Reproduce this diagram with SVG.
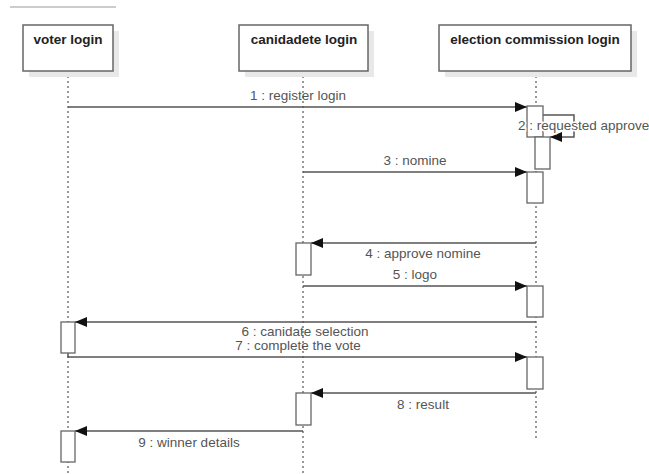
<svg xmlns="http://www.w3.org/2000/svg" width="649" height="474" viewBox="0 0 649 474">
  <style>
    .shadow { fill: #e8e8e8; }
    .head { fill: #ffffff; stroke: #666666; stroke-width: 1.5; }
    .title { font-family: "Liberation Sans", Arial, sans-serif; font-size: 13.5px; font-weight: bold; fill: #222222; text-anchor: middle; }
    .life { stroke: #777777; stroke-width: 1.5; stroke-dasharray: 2 3; fill: none; }
    .act { fill: #ffffff; stroke: #666666; stroke-width: 1.3; }
    .msg { stroke: #555555; stroke-width: 1.5; fill: none; marker-end: url(#arrow); }
    .lbl { font-family: "Liberation Sans", Arial, sans-serif; font-size: 13.5px; fill: #555555; text-anchor: middle; }
    .halo { paint-order: stroke; stroke: #ffffff; stroke-width: 3px; text-anchor: start; }
  </style>
  <defs>
    <marker id="arrow" viewBox="0 0 12 10" refX="12" refY="5" markerWidth="12" markerHeight="10" markerUnits="userSpaceOnUse" orient="auto">
      <path d="M0,0 L12,5 L0,10 Z" fill="#111111"/>
    </marker>
  </defs>

  <rect width="649" height="474" fill="#ffffff"/>
  <line x1="10" y1="7" x2="116" y2="7" stroke="#999999" stroke-width="1"/>

  <!-- lifelines -->
  <g id="lifelines">
    <line class="life" x1="68" y1="71" x2="68" y2="474"/>
    <line class="life" x1="303" y1="71" x2="303" y2="474"/>
    <line class="life" x1="536" y1="71" x2="536" y2="438"/>
  </g>

  <!-- participants -->
  <g id="voter">
    <rect class="shadow" x="29" y="31" width="90" height="46"/>
    <rect class="head" x="23" y="25" width="90" height="46"/>
    <text class="title" x="68" y="44">voter login</text>
  </g>
  <g id="candidate">
    <rect class="shadow" x="245" y="31" width="129" height="46"/>
    <rect class="head" x="239" y="25" width="129" height="46"/>
    <text class="title" x="304" y="44">canidadete login</text>
  </g>
  <g id="commission">
    <rect class="shadow" x="445" y="31" width="192" height="46"/>
    <rect class="head" x="439" y="25" width="192" height="46"/>
    <text class="title" x="535" y="44">election commission login</text>
  </g>

  <!-- connectors -->
  <g id="messages">
    <line class="msg" x1="68" y1="107" x2="527" y2="107"/>
    <path class="msg" d="M543,115 H574 V137 H550"/>
    <line class="msg" x1="303" y1="172" x2="527" y2="172"/>
    <line class="msg" x1="536" y1="243" x2="311" y2="243"/>
    <line class="msg" x1="303" y1="286" x2="527" y2="286"/>
    <line class="msg" x1="536" y1="322" x2="75" y2="322"/>
    <path class="msg" d="M68,353 V357 H527"/>
    <line class="msg" x1="536" y1="393" x2="311" y2="393"/>
    <line class="msg" x1="303" y1="431" x2="75" y2="431"/>
  </g>

  <!-- activations -->
  <g id="activations">
    <rect class="act" x="527" y="106" width="16" height="31"/>
    <rect class="act" x="535" y="137" width="15" height="32"/>
    <rect class="act" x="527" y="172" width="16" height="31"/>
    <rect class="act" x="296" y="243" width="15" height="32"/>
    <rect class="act" x="527" y="286" width="16" height="31"/>
    <rect class="act" x="61" y="322" width="14" height="31"/>
    <rect class="act" x="527" y="357" width="16" height="32"/>
    <rect class="act" x="296" y="393" width="15" height="32"/>
    <rect class="act" x="61" y="431" width="14" height="31"/>
  </g>

  <!-- message labels -->
  <g id="labels">
    <text class="lbl" x="298" y="100">1 : register login</text>
    <text class="lbl halo" x="518" y="130">2 : requested approve</text>
    <text class="lbl" x="415" y="165">3 : nomine</text>
    <text class="lbl" x="423" y="258">4 : approve nomine</text>
    <text class="lbl" x="415" y="279">5 : logo</text>
    <text class="lbl" x="305" y="336" font-size="13px">6 : canidate selection</text>
    <text class="lbl" x="298" y="350" font-size="13px">7 : complete the vote</text>
    <text class="lbl" x="423" y="409">8 : result</text>
    <text class="lbl" x="189" y="447">9 : winner details</text>
  </g>
</svg>
